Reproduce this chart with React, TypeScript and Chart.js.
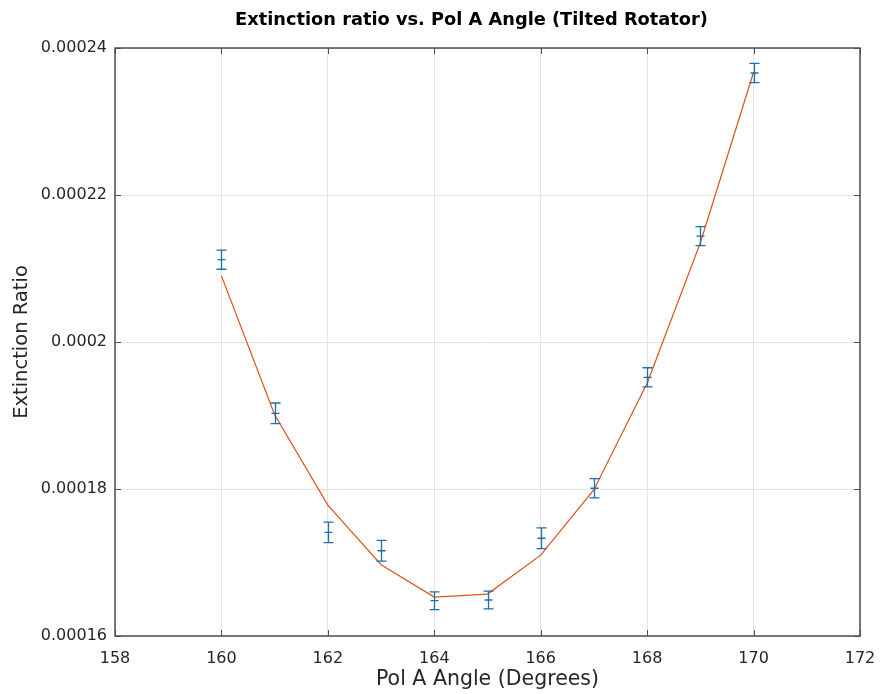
import React, { useEffect, useRef } from "react";
import { Chart, registerables } from "chart.js";

Chart.register(...registerables);

const angles = [160, 161, 162, 163, 164, 165, 166, 167, 168, 169, 170];
const measured = [
  0.0002112, 0.0001903, 0.0001741, 0.0001716, 0.0001648, 0.0001649, 0.0001733,
  0.0001801, 0.0001952, 0.0002144, 0.0002366,
];
const errors = [
  0.0000013, 0.0000014, 0.0000014, 0.0000014, 0.0000012, 0.0000012, 0.0000014,
  0.0000013, 0.0000013, 0.0000013, 0.0000013,
];
const fitted = [
  0.000209, 0.0001901, 0.0001778, 0.0001697, 0.0001653, 0.0001657, 0.000171,
  0.0001799, 0.0001944, 0.0002135, 0.0002367,
];
const xTicks = [158, 160, 162, 164, 166, 168, 170, 172];
const yTicks = [0.00016, 0.00018, 0.0002, 0.00022, 0.00024];
const yTickLabels = ["0.00016", "0.00018", "0.0002", "0.00022", "0.00024"];
const chartTitle = "Extinction ratio vs. Pol A Angle (Tilted Rotator)";

const FONT = "'DejaVu Sans', sans-serif";
const TEXT = "#262626";

const framePlugin = {
  id: "frameAndErrors",
  afterDatasetsDraw(chart: any) {
    const { ctx, chartArea: a, scales } = chart;
    const xs = scales.x;
    const ys = scales.y;
    ctx.save();
    // error bars
    ctx.strokeStyle = "#1f6fa8";
    ctx.lineWidth = 1.3;
    angles.forEach((ang, i) => {
      const px = Math.round(xs.getPixelForValue(ang)) + 0.5;
      const top = ys.getPixelForValue(measured[i] + errors[i]);
      const bot = ys.getPixelForValue(measured[i] - errors[i]);
      const mid = ys.getPixelForValue(measured[i]);
      const cw = 5;
      ctx.beginPath();
      ctx.moveTo(px, top);
      ctx.lineTo(px, bot);
      ctx.moveTo(px - cw, top);
      ctx.lineTo(px + cw, top);
      ctx.moveTo(px - cw, bot);
      ctx.lineTo(px + cw, bot);
      ctx.moveTo(px - 4, mid);
      ctx.lineTo(px + 4, mid);
      ctx.stroke();
    });
    // frame
    ctx.strokeStyle = "#4d4d4d";
    ctx.lineWidth = 1.5;
    ctx.strokeRect(a.left, a.top, a.right - a.left, a.bottom - a.top);
    // inward ticks
    ctx.lineWidth = 1;
    const tl = 6;
    ctx.beginPath();
    xTicks.forEach((v) => {
      const px = Math.round(xs.getPixelForValue(v)) + 0.5;
      ctx.moveTo(px, a.bottom);
      ctx.lineTo(px, a.bottom - tl);
      ctx.moveTo(px, a.top);
      ctx.lineTo(px, a.top + tl);
    });
    yTicks.forEach((v) => {
      const py = Math.round(ys.getPixelForValue(v)) + 0.5;
      ctx.moveTo(a.left, py);
      ctx.lineTo(a.left + tl, py);
      ctx.moveTo(a.right, py);
      ctx.lineTo(a.right - tl, py);
    });
    ctx.stroke();
    // title, centred over the plot box
    ctx.fillStyle = "#000";
    ctx.font = `bold 17.8px ${FONT}`;
    ctx.textAlign = "center";
    ctx.textBaseline = "middle";
    ctx.fillText(chartTitle, (a.left + a.right) / 2 - 16, 20);
    ctx.restore();
  },
};

export default function App() {
  const ref = useRef<HTMLCanvasElement | null>(null);
  useEffect(() => {
    if (!ref.current) return;
    const chart = new Chart(ref.current, {
      type: "line",
      data: {
        datasets: [
          {
            label: "Fit",
            data: angles.map((x, i) => ({ x, y: fitted[i] })),
            borderColor: "#D95319",
            borderWidth: 1.2,
            pointRadius: 0,
            tension: 0,
            fill: false,
          },
          {
            label: "Measured",
            data: angles.map((x, i) => ({ x, y: measured[i] })),
            showLine: false,
            pointRadius: 0,
            borderColor: "#0072BD",
          },
        ],
      },
      plugins: [framePlugin],
      options: {
        animation: false,
        responsive: false,
        maintainAspectRatio: false,
        layout: { padding: { left: 0, right: 20, top: 48, bottom: 0 } },
        plugins: {
          legend: { display: false },
          tooltip: { enabled: false },
          title: { display: false },
        },
        scales: {
          x: {
            type: "linear",
            min: 158,
            max: 172,
            afterBuildTicks: (s: any) => {
              s.ticks = xTicks.map((v) => ({ value: v }));
            },
            afterFit: (s: any) => {
              s.height = 58;
              s.paddingLeft = 0;
              s.paddingRight = 0;
            },
            ticks: {
              color: TEXT,
              font: { family: FONT, size: 16 },
              padding: 13,
              maxRotation: 0,
              callback: (v: any) => String(v),
            },
            grid: { color: "#e3e3e3", drawTicks: false, lineWidth: 1 },
            border: { display: false },
            title: {
              display: true,
              text: "Pol A Angle (Degrees)",
              color: TEXT,
              font: { family: FONT, size: 20.5 },
              padding: { top: 2, bottom: 2 },
            },
          },
          y: {
            type: "linear",
            min: 0.00016,
            max: 0.00024,
            afterBuildTicks: (s: any) => {
              s.ticks = yTicks.map((v) => ({ value: v }));
            },
            afterFit: (s: any) => {
              s.width = 115;
            },
            ticks: {
              color: TEXT,
              font: { family: FONT, size: 16 },
              padding: 8,
              callback: (_v: any, i: number) => yTickLabels[i],
            },
            grid: { color: "#e3e3e3", drawTicks: false, lineWidth: 1 },
            border: { display: false },
            title: {
              display: true,
              text: "Extinction Ratio",
              color: TEXT,
              font: { family: FONT, size: 19.5 },
              padding: { top: 10, bottom: 0 },
            },
          },
        },
      },
    } as any);
    return () => chart.destroy();
  }, []);
  return (
    <div style={{ position: "fixed", left: 0, top: 0, width: 880, height: 694, background: "#fff" }}>
      <canvas ref={ref} width={880} height={694} style={{ display: "block" }} />
    </div>
  );
}
